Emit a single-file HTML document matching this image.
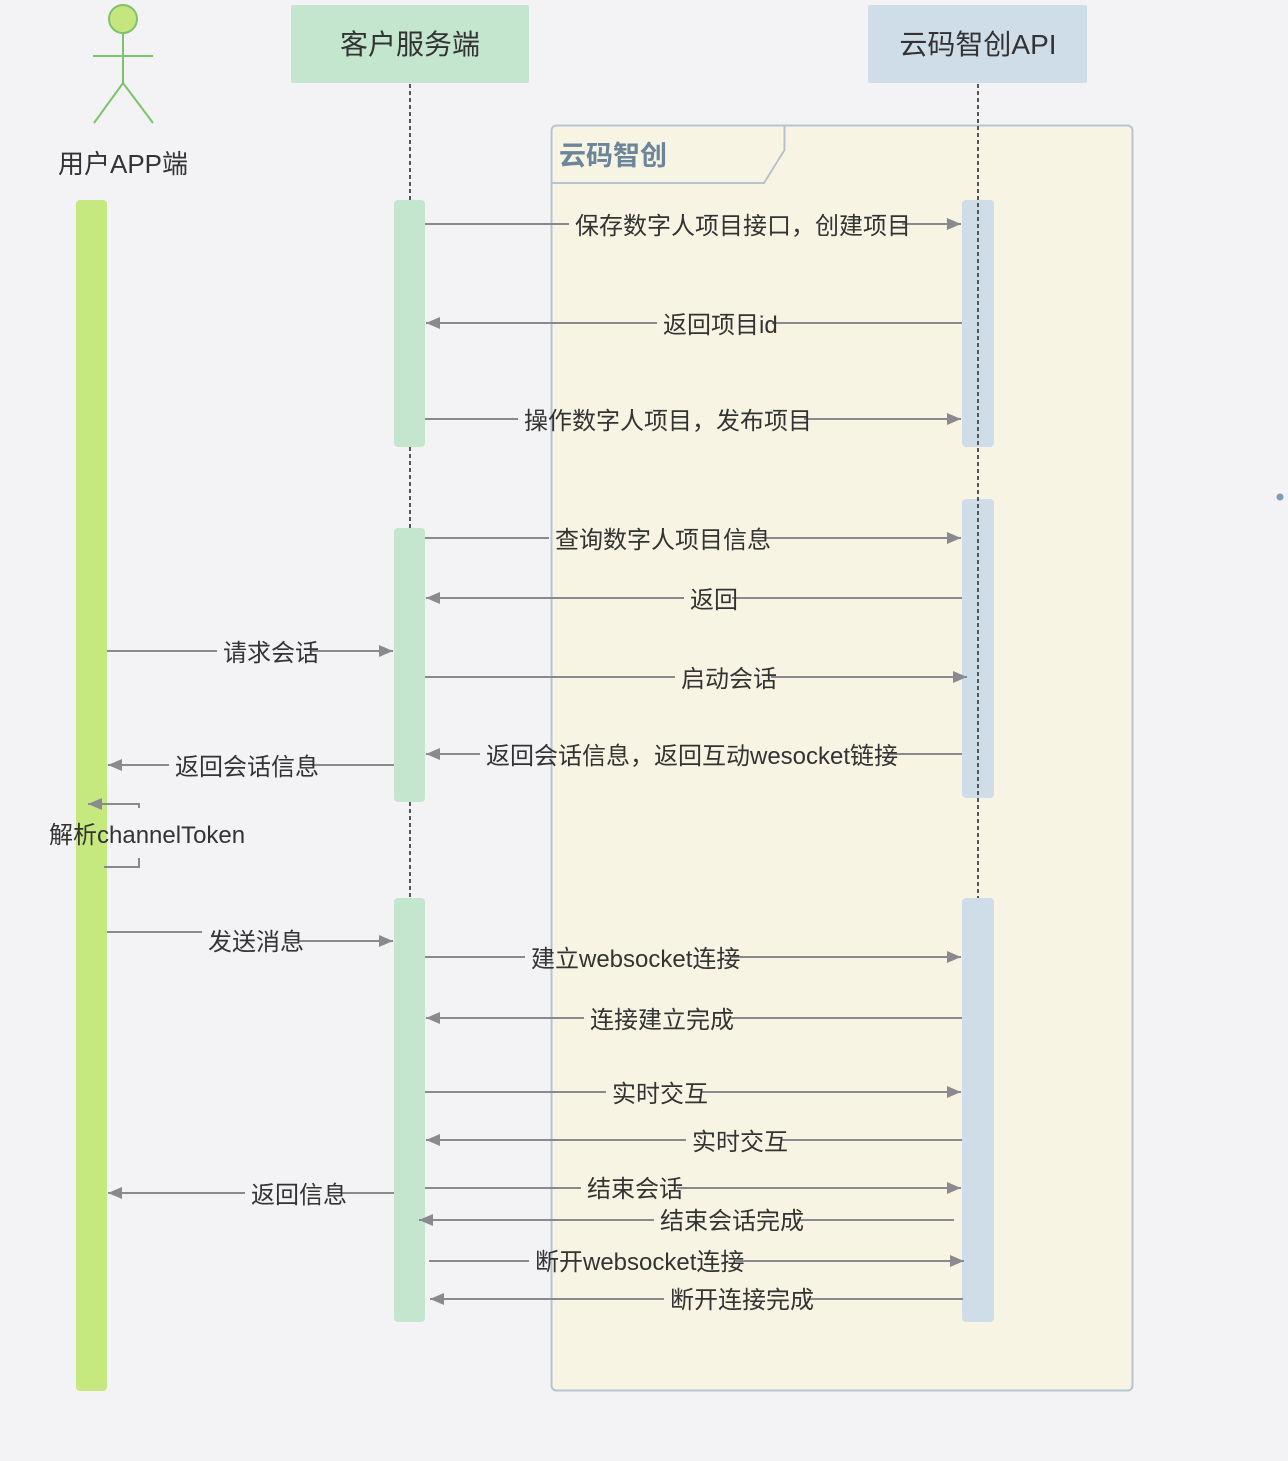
<!DOCTYPE html>
<html>
<head>
<meta charset="utf-8">
<style>
  html,body{margin:0;padding:0;background:#f3f3f5;}
  svg{display:block;}
  text{font-family:"Liberation Sans","Noto Sans CJK SC",sans-serif;fill:#333;}
</style>
</head>
<body>
<svg width="1288" height="1461" viewBox="0 0 1288 1461" xmlns="http://www.w3.org/2000/svg">
  <defs>
    <marker id="ar" viewBox="0 0 14 12" refX="14" refY="6" markerWidth="14" markerHeight="12" markerUnits="userSpaceOnUse" orient="auto">
      <path d="M0,0 L14,6 L0,12 z" fill="#8a8a8e"/>
    </marker>
  </defs>
  <rect x="0" y="0" width="1288" height="1461" fill="#f3f3f5"/>

  <!-- Frame -->
  <rect x="551.5" y="125.5" width="581" height="1265" rx="5" fill="#f7f4e3" stroke="#b6c4d2" stroke-width="2"/>
  <path d="M551.5,183 L764,183 L784.5,150 L784.5,125.5" fill="none" stroke="#b6c4d2" stroke-width="2"/>
  <text x="559" y="165" font-size="27" font-weight="bold" style="fill:#6b859b">云码智创</text>

  <!-- Actor -->
  <circle cx="123" cy="19" r="14" fill="#c5e67f" stroke="#7cc36a" stroke-width="2"/>
  <g stroke="#7cc36a" stroke-width="2" fill="none">
    <line x1="123" y1="33" x2="123" y2="83"/>
    <line x1="93" y1="56" x2="153" y2="56"/>
    <line x1="123" y1="83" x2="94" y2="123"/>
    <line x1="123" y1="83" x2="153" y2="123"/>
  </g>
  <text x="123" y="173" font-size="26" text-anchor="middle">用户APP端</text>

  <!-- Header boxes -->
  <rect x="291" y="5" width="238" height="78" rx="2" fill="#c5e6ce"/>
  <text x="410" y="54" font-size="28" text-anchor="middle">客户服务端</text>
  <rect x="868" y="5" width="219" height="78" rx="2" fill="#cfdde8"/>
  <text x="978" y="54" font-size="28" text-anchor="middle">云码智创API</text>

  <!-- Lifelines -->
  <g stroke="#555" stroke-width="2" stroke-dasharray="4,3" fill="none">
    <line x1="410" y1="84" x2="410" y2="200"/>
    <line x1="410" y1="447" x2="410" y2="528"/>
    <line x1="410" y1="802" x2="410" y2="898"/>
  </g>

  <!-- Activation bars -->
  <rect x="76" y="200" width="31" height="1191" rx="4" fill="#c5e87f"/>
  <rect x="394" y="200" width="31" height="247" rx="4" fill="#c5e6ce"/>
  <rect x="394" y="528" width="31" height="274" rx="4" fill="#c5e6ce"/>
  <rect x="394" y="898" width="31" height="424" rx="4" fill="#c5e6ce"/>
  <rect x="962" y="200" width="32" height="247" rx="4" fill="#cfdde8"/>
  <rect x="962" y="499" width="32" height="299" rx="4" fill="#cfdde8"/>
  <rect x="962" y="898" width="32" height="424" rx="4" fill="#cfdde8"/>
  <line x1="978" y1="84" x2="978" y2="898" stroke="#555" stroke-width="2" stroke-dasharray="4,3"/>

  <!-- Messages -->
  <g stroke="#8a8a8e" stroke-width="2" fill="none">
    <line x1="425" y1="224" x2="569" y2="224"/>
    <line x1="902" y1="224" x2="961" y2="224" marker-end="url(#ar)"/>
    <line x1="962" y1="323" x2="772" y2="323"/>
    <line x1="657" y1="323" x2="426" y2="323" marker-end="url(#ar)"/>
    <line x1="425" y1="419" x2="518" y2="419"/>
    <line x1="804" y1="419" x2="961" y2="419" marker-end="url(#ar)"/>
    <line x1="425" y1="538" x2="549" y2="538"/>
    <line x1="764" y1="538" x2="961" y2="538" marker-end="url(#ar)"/>
    <line x1="962" y1="598" x2="732" y2="598"/>
    <line x1="684" y1="598" x2="426" y2="598" marker-end="url(#ar)"/>
    <line x1="107" y1="651" x2="217" y2="651"/>
    <line x1="312" y1="651" x2="393" y2="651" marker-end="url(#ar)"/>
    <line x1="425" y1="677" x2="675" y2="677"/>
    <line x1="771" y1="677" x2="967" y2="677" marker-end="url(#ar)"/>
    <line x1="962" y1="754" x2="888" y2="754"/>
    <line x1="480" y1="754" x2="426" y2="754" marker-end="url(#ar)"/>
    <line x1="394" y1="765" x2="312" y2="765"/>
    <line x1="169" y1="765" x2="108" y2="765" marker-end="url(#ar)"/>
    <path d="M139,808 L139,804 L88,804" marker-end="url(#ar)"/>
    <path d="M139,858 L139,867 L104,867"/>
    <line x1="107" y1="932" x2="202" y2="932"/>
    <line x1="298" y1="941" x2="393" y2="941" marker-end="url(#ar)"/>
    <line x1="425" y1="957" x2="525" y2="957"/>
    <line x1="732" y1="957" x2="961" y2="957" marker-end="url(#ar)"/>
    <line x1="962" y1="1018" x2="728" y2="1018"/>
    <line x1="584" y1="1018" x2="426" y2="1018" marker-end="url(#ar)"/>
    <line x1="425" y1="1092" x2="606" y2="1092"/>
    <line x1="701" y1="1092" x2="961" y2="1092" marker-end="url(#ar)"/>
    <line x1="962" y1="1140" x2="781" y2="1140"/>
    <line x1="686" y1="1140" x2="426" y2="1140" marker-end="url(#ar)"/>
    <line x1="394" y1="1193" x2="341" y2="1193"/>
    <line x1="245" y1="1193" x2="108" y2="1193" marker-end="url(#ar)"/>
    <line x1="425" y1="1188" x2="581" y2="1188"/>
    <line x1="677" y1="1188" x2="961" y2="1188" marker-end="url(#ar)"/>
    <line x1="954" y1="1220" x2="797" y2="1220"/>
    <line x1="654" y1="1220" x2="419" y2="1220" marker-end="url(#ar)"/>
    <line x1="429" y1="1261" x2="529" y2="1261"/>
    <line x1="736" y1="1261" x2="964" y2="1261" marker-end="url(#ar)"/>
    <line x1="963" y1="1299" x2="807" y2="1299"/>
    <line x1="664" y1="1299" x2="430" y2="1299" marker-end="url(#ar)"/>
  </g>

  <!-- Labels -->
  <g font-size="24">
    <text x="575" y="234">保存数字人项目接口，创建项目</text>
    <text x="663" y="333">返回项目id</text>
    <text x="524" y="429">操作数字人项目，发布项目</text>
    <text x="555" y="548">查询数字人项目信息</text>
    <text x="690" y="608">返回</text>
    <text x="223" y="661">请求会话</text>
    <text x="681" y="687">启动会话</text>
    <text x="486" y="764">返回会话信息，返回互动wesocket链接</text>
    <text x="175" y="775">返回会话信息</text>
    <text x="49" y="843">解析channelToken</text>
    <text x="208" y="950">发送消息</text>
    <text x="531" y="967">建立websocket连接</text>
    <text x="590" y="1028">连接建立完成</text>
    <text x="612" y="1102">实时交互</text>
    <text x="692" y="1150">实时交互</text>
    <text x="251" y="1203">返回信息</text>
    <text x="587" y="1197">结束会话</text>
    <text x="660" y="1229">结束会话完成</text>
    <text x="535" y="1270">断开websocket连接</text>
    <text x="670" y="1308">断开连接完成</text>
  </g>

  <circle cx="1280" cy="497" r="3.5" fill="#7f9ab5"/>
</svg>
</body>
</html>
